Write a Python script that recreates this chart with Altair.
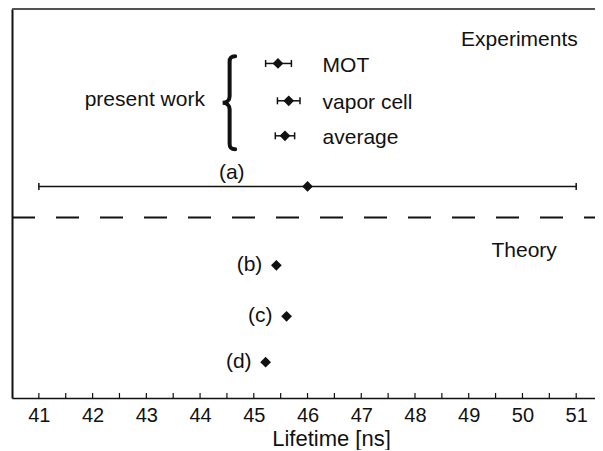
import altair as alt
import pandas as pd

# ---------------- data ----------------
X_DOMAIN = [40.5, 51.35]
Y_DOMAIN = [0, 10]

TICK_LABELS = [41, 42, 43, 44, 45, 46, 47, 48, 49, 50, 51]
MINOR_TICKS = [41.0, 41.5, 42.0, 42.5, 43.0, 43.5, 44.0, 44.5, 45.0, 45.5, 46.0,
               46.5, 47.0, 47.5, 48.0, 48.5, 49.0, 49.5, 50.0, 50.5, 51.0]

EXP_NAMES = ["MOT", "vapor cell", "average"]
EXP_VALUE = [45.45, 45.65, 45.58]
EXP_LOW = [45.22, 45.44, 45.40]
EXP_HIGH = [45.70, 45.86, 45.76]
EXP_ROW = [8.60, 7.64, 6.74]
EXP_TEXT_ROW = [8.38, 7.44, 6.53]
EXP_TEXT_X = [46.28, 46.28, 46.28]

REF_NAMES = ["(a)"]
REF_VALUE = [46.0]
REF_LOW = [41.0]
REF_HIGH = [51.0]
REF_ROW = [5.44]
REF_TEXT_X = [44.59]
REF_TEXT_ROW = [5.63]

THEORY_NAMES = ["(b)", "(c)", "(d)"]
THEORY_VALUE = [45.42, 45.61, 45.22]
THEORY_ROW = [3.41, 2.10, 0.92]

HEADINGS = ["Experiments", "Theory", "present work"]
HEADING_X = [51.03, 50.64, 44.09]
HEADING_ROW = [9.05, 3.62, 7.51]

DIVIDER_X = [40.5, 51.35]
DIVIDER_ROW = [4.64]

BRACE_X = [44.55]
BRACE_ROW = [7.59]

# ---------------- layout / style ----------------
PLOT_W = 583
PLOT_H = 389
FONT = "Liberation Sans"
INK = "#111111"

BRACE_PATH = ("M 0.12 -1 C 0.03 -1 0 -0.96 0 -0.88 L 0 -0.14 "
              "C 0 -0.06 -0.06 0 -0.15 0 C -0.06 0 0 0.06 0 0.14 "
              "L 0 0.88 C 0 0.96 0.03 1 0.12 1")

xs = alt.Scale(domain=X_DOMAIN, nice=False, zero=False)
ys = alt.Scale(domain=Y_DOMAIN, nice=False, zero=False)

axis_x = alt.Axis(values=TICK_LABELS, ticks=False, tickSize=0, grid=False,
                  domainColor=INK, domainWidth=1.5, format="d",
                  labelFont=FONT, labelFontSize=20, labelColor=INK,
                  labelPadding=7, labelFlush=False,
                  titleFont=FONT, titleFontSize=22, titleFontWeight="normal",
                  titleColor=INK, titlePadding=3, titleX=319,
                  titleAlign="center")
axis_y = alt.Axis(ticks=False, labels=False, grid=False, domainColor=INK,
                  domainWidth=2)


def X(field):
    return alt.X(f"{field}:Q", scale=xs, axis=axis_x, title="Lifetime [ns]")


def Y(field):
    return alt.Y(f"{field}:Q", scale=ys, axis=axis_y, title=None)


ticks_df = pd.DataFrame({"t": MINOR_TICKS})
exp_df = pd.DataFrame({"name": EXP_NAMES, "value": EXP_VALUE, "low": EXP_LOW,
                       "high": EXP_HIGH, "row": EXP_ROW,
                       "tx": EXP_TEXT_X, "trow": EXP_TEXT_ROW})
ref_df = pd.DataFrame({"name": REF_NAMES, "value": REF_VALUE, "low": REF_LOW,
                       "high": REF_HIGH, "row": REF_ROW,
                       "tx": REF_TEXT_X, "trow": REF_TEXT_ROW})
bars_df = pd.concat([exp_df, ref_df], ignore_index=True)
theory_df = pd.DataFrame({"name": THEORY_NAMES, "value": THEORY_VALUE,
                          "row": THEORY_ROW})
points_df = pd.concat([bars_df[["value", "row"]], theory_df[["value", "row"]]],
                      ignore_index=True)
head_df = pd.DataFrame({"name": HEADINGS, "x": HEADING_X, "row": HEADING_ROW})
div_df = pd.DataFrame({"x0": [DIVIDER_X[0]], "x1": [DIVIDER_X[1]],
                       "row": DIVIDER_ROW})
brace_df = pd.DataFrame({"x": BRACE_X, "row": BRACE_ROW})

# inner ticks on the bottom axis
ticks = alt.Chart(ticks_df).mark_rule(color=INK, strokeWidth=1.2).encode(
    x=X("t"), y=alt.value(PLOT_H), y2=alt.value(PLOT_H - 5))

# top frame line
top = alt.Chart(ticks_df).mark_rule(color="#555555", strokeWidth=1.5).encode(
    x=alt.value(0), x2=alt.value(PLOT_W), y=alt.value(0))

divider = alt.Chart(div_df).mark_rule(
    color=INK, strokeWidth=2, strokeDash=[23, 21]).encode(
    x=X("x0"), x2="x1", y=Y("row"))

bars = alt.Chart(bars_df).mark_rule(color=INK, strokeWidth=1.5).encode(
    x=X("low"), x2="high", y=Y("row"))

cap_lo = alt.Chart(bars_df).mark_rule(
    color=INK, strokeWidth=1.5, yOffset=-3.5, y2Offset=3.5).encode(
    x=X("low"), y=Y("row"), y2="row")
cap_hi = alt.Chart(bars_df).mark_rule(
    color=INK, strokeWidth=1.5, yOffset=-3.5, y2Offset=3.5).encode(
    x=X("high"), y=Y("row"), y2="row")

points = alt.Chart(points_df).mark_point(
    shape="diamond", filled=True, size=115, opacity=1, color=INK).encode(
    x=X("value"), y=Y("row"))

theory_text = alt.Chart(theory_df).mark_text(
    align="right", baseline="middle", dx=-14, font=FONT, fontSize=21,
    color=INK).encode(x=X("value"), y=Y("row"), text="name:N")

exp_text = alt.Chart(exp_df).mark_text(
    align="left", baseline="alphabetic", font=FONT, fontSize=21,
    color=INK).encode(x=X("tx"), y=Y("trow"), text="name:N")

ref_text = alt.Chart(ref_df).mark_text(
    align="center", baseline="alphabetic", font=FONT, fontSize=21,
    color=INK).encode(x=X("tx"), y=Y("trow"), text="name:N")

head_text = alt.Chart(head_df).mark_text(
    align="right", baseline="alphabetic", font=FONT, fontSize=21,
    color=INK).encode(x=X("x"), y=Y("row"), text="name:N")

brace = alt.Chart(brace_df).mark_point(
    shape=BRACE_PATH, filled=False, size=8649, strokeWidth=4, opacity=1,
    color=INK, strokeCap="round").encode(x=X("x"), y=Y("row"))

chart = alt.layer(
    ticks, top, divider, bars, cap_lo, cap_hi, points,
    theory_text, exp_text, ref_text, head_text, brace
).properties(
    width=PLOT_W, height=PLOT_H,
    autosize=alt.AutoSizeParams(type="none"),
    padding={"left": 4, "top": 1, "right": 0, "bottom": 52},
).configure_view(stroke=None).configure_axis(grid=False)

chart.save("out.html", embed_options={"renderer": "svg", "actions": False})
